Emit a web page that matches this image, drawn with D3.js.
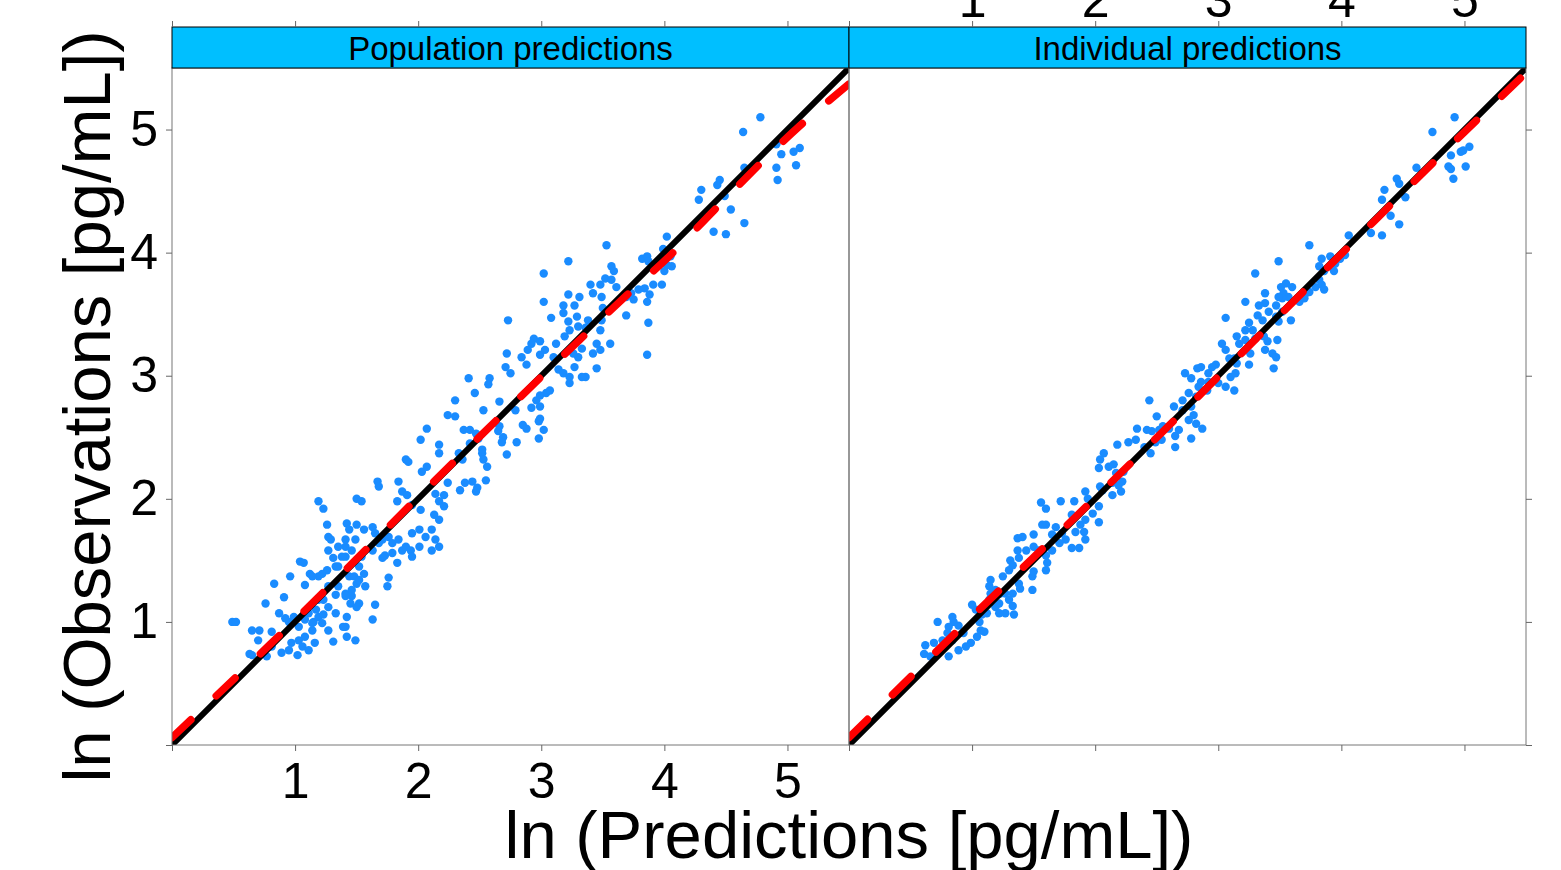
<!DOCTYPE html>
<html>
<head>
<meta charset="utf-8">
<script src="https://cdn.jsdelivr.net/npm/d3@7"></script>
<style>
  body { margin: 0; background: #fff; }
  text { font-family: "Liberation Sans", Arial, sans-serif; }
</style>
</head>
<body>
<div id="chart"></div>
<script>
// panel titles
var panelNames = ['Population predictions', 'Individual predictions'];
var tickValues = [0, 1, 2, 3, 4, 5];
var axisRange = [0, 5.5];

var popPoints = [
  [0.49,1.0],[0.52,1.0],[0.65,0.93],[0.71,0.93],[0.63,0.74],[0.65,0.73],[0.76,1.15],[0.81,0.92],[0.83,1.31],[0.91,1.2],
  [0.96,1.37],[1.04,1.49],[1.07,1.48],[0.87,1.07],[0.92,1.03],[0.95,1.0],[0.99,1.04],[1.03,0.96],[1.08,1.02],[1.11,1.07],
  [1.15,1.0],[1.19,1.04],[1.23,1.06],[1.14,0.93],[1.08,0.88],[1.03,0.85],[0.97,0.83],[1.06,0.80],[1.11,0.77],[1.16,0.83],
  [0.95,0.77],[0.89,0.75],[1.02,0.73],[0.81,0.80],[0.70,0.85],[0.77,0.72],[1.12,1.39],[1.19,1.37],[1.26,1.42],[1.33,1.45],
  [1.27,1.29],[1.35,1.29],[1.41,1.23],[1.46,1.21],[1.52,1.15],[1.46,1.26],[1.50,1.31],[1.56,1.39],[1.52,1.45],[1.54,1.53],
  [1.46,1.58],[1.41,1.61],[1.38,1.53],[1.35,1.45],[1.44,1.37],[1.49,1.67],[1.41,1.67],[1.44,1.75],[1.42,1.80],[1.50,1.79],
  [1.56,1.75],[1.63,1.77],[1.65,1.72],[1.68,1.64],[1.63,1.58],[1.71,1.67],[1.76,1.69],[1.79,1.64],[1.84,1.67],[1.87,1.58],
  [1.90,1.61],[1.95,1.72],[2.01,1.75],[2.06,1.69],[2.11,1.75],[2.14,1.67],[2.17,1.61],[2.11,1.58],[2.01,1.61],[1.94,1.58],
  [1.95,1.53],[1.83,1.48],[1.79,1.56],[1.73,1.54],[1.71,1.52],[1.76,1.36],[1.75,1.29],[1.65,1.14],[1.63,1.02],[1.49,0.85],
  [1.41,0.96],[1.42,1.04],[1.33,1.07],[1.27,1.12],[1.23,1.18],[1.19,1.18],[1.17,1.10],[1.22,0.99],[1.27,0.93],[1.31,0.84],
  [1.14,0.99],[1.19,1.98],[1.23,1.92],[1.50,2.00],[1.54,1.98],[1.26,1.79],[1.27,1.69],[1.29,1.67],[1.27,1.58],[1.67,2.14],
  [1.68,2.10],[1.84,2.14],[1.87,2.06],[1.91,2.03],[1.83,1.98],[1.95,1.95],[2.02,1.91],[1.90,2.32],[1.92,2.30],[2.02,2.48],
  [2.03,2.22],[2.07,2.26],[2.17,2.44],[2.17,2.37],[2.14,2.04],[2.21,2.03],[2.17,1.98],[2.21,1.94],[2.13,1.87],[2.17,1.83],
  [2.24,2.13],[2.33,2.37],[2.36,2.32],[2.34,2.07],[2.38,2.13],[2.44,2.14],[2.47,2.06],[2.48,2.09],[2.52,2.37],[2.53,2.32],
  [2.56,2.26],[2.55,2.15],[1.08,1.30],[1.14,1.37],[1.22,1.39],[1.31,1.52],[1.35,1.61],[1.41,1.53],[1.48,1.37],[1.52,1.34],
  [1.57,1.29],[1.33,1.22],[1.41,1.21],[1.45,1.15],[1.50,1.12],[1.39,0.96],[1.42,0.88],
  [4.02,4.13],[3.53,4.06],[3.22,3.93],[3.02,3.83],[3.57,3.89],[3.59,3.85],[3.82,3.95],[3.86,3.97],[3.87,3.93],[3.99,4.03],
  [4.05,3.97],[4.02,3.90],[4.06,3.89],[4.00,3.85],[3.40,3.74],[3.48,3.74],[3.52,3.79],[3.57,3.78],[3.61,3.72],[3.42,3.67],
  [3.49,3.64],[3.22,3.66],[3.31,3.64],[3.27,3.57],[3.18,3.57],[3.02,3.60],[3.73,3.67],[3.79,3.70],[3.84,3.71],[3.91,3.74],
  [3.98,3.74],[3.88,3.66],[3.86,3.60],[3.75,3.62],[3.69,3.64],[3.87,3.43],[3.86,3.17],[3.69,3.49],[3.50,3.55],[3.49,3.45],
  [3.48,3.37],[3.18,3.51],[3.22,3.44],[3.29,3.48],[3.30,3.40],[3.23,3.37],[3.19,3.32],[3.12,3.26],[3.08,3.47],[3.38,3.45],
  [3.36,3.39],[2.73,3.45],[2.94,3.30],[2.92,3.26],[2.99,3.28],[3.03,3.21],[2.99,3.17],[2.89,3.21],[2.84,3.15],[2.88,3.09],
  [2.72,3.18],[2.71,3.07],[2.75,3.02],[3.10,3.15],[3.14,3.05],[3.18,3.02],[3.23,2.99],[3.27,3.07],[3.30,3.15],[3.26,3.18],
  [3.33,3.22],[3.45,3.26],[3.48,3.21],[3.42,3.18],[3.56,3.26],[3.45,3.06],[3.36,2.99],[3.33,2.99],[3.23,2.94],[3.04,2.86],
  [3.07,2.88],[2.99,2.84],[2.96,2.80],[2.99,2.75],[2.92,2.74],[2.99,2.65],[2.98,2.63],[3.02,2.56],[2.98,2.49],[2.85,2.60],
  [2.88,2.57],[2.80,2.46],[2.66,2.79],[2.79,2.72],[2.53,2.72],[2.58,2.98],[2.57,2.93],[2.41,2.98],[2.46,2.86],[2.30,2.80],
  [2.24,2.68],[2.30,2.67],[2.07,2.57],[2.37,2.56],[2.42,2.56],[2.47,2.53],[2.49,2.49],[2.42,2.45],[2.52,2.40],[2.65,2.55],
  [2.69,2.50],[2.68,2.46],[2.72,2.36],[2.66,2.59],
  [4.78,5.10],[4.64,4.98],[4.91,4.88],[4.95,4.80],[5.05,4.82],[5.10,4.85],[5.07,4.71],[4.91,4.69],[4.92,4.59],[4.65,4.69],
  [4.30,4.51],[4.28,4.43],[4.43,4.55],[4.45,4.59],[4.49,4.46],[4.54,4.35],[4.65,4.24],[4.40,4.17],[4.50,4.15]
];

var indPoints = [
  [2.18,2.44],[2.07,2.37],[2.04,2.32],[2.11,2.26],[2.15,2.28],[2.03,2.25],[2.17,2.21],[2.23,2.22],[2.22,2.14],[2.19,2.11],
  [2.14,2.13],[2.21,2.06],[2.14,2.03],[2.04,2.10],[2.06,2.07],[1.92,2.06],[1.94,2.00],[1.83,1.98],[1.72,1.98],[1.56,1.97],
  [1.60,1.92],[2.03,1.94],[1.98,1.88],[2.03,1.81],[1.92,1.83],[1.88,1.79],[1.81,1.87],[1.84,1.73],[1.91,1.73],[1.92,1.67],
  [1.87,1.60],[1.81,1.60],[1.76,1.67],[1.73,1.72],[1.68,1.77],[1.60,1.79],[1.57,1.79],[1.65,1.71],[1.71,1.64],[1.65,1.58],
  [1.60,1.54],[1.54,1.58],[1.50,1.61],[1.44,1.58],[1.37,1.58],[1.38,1.52],[1.41,1.69],[1.37,1.68],[1.50,1.71],[1.31,1.50],
  [1.30,1.42],[1.33,1.46],[1.25,1.37],[1.15,1.34],[1.14,1.29],[1.19,1.26],[1.27,1.23],[1.33,1.23],[1.38,1.31],[1.39,1.27],
  [1.49,1.37],[1.50,1.41],[1.60,1.42],[1.61,1.48],[1.49,1.26],[1.30,1.18],[1.33,1.13],[1.27,1.07],[1.34,1.06],[1.22,1.15],
  [1.19,1.12],[1.14,1.18],[1.00,1.14],[1.03,1.10],[1.08,1.06],[1.12,1.07],[1.06,1.00],[1.07,0.93],[1.10,0.92],[1.04,0.88],
  [0.99,0.83],[0.95,0.80],[0.89,0.77],[0.93,0.91],[0.89,0.97],[0.85,1.00],[0.84,1.04],[0.81,0.96],[0.80,0.91],[0.84,0.85],
  [0.76,0.85],[0.72,1.00],[0.69,0.83],[0.62,0.81],[0.61,0.74],[0.66,0.72],[0.81,0.72],[1.22,1.07],[1.23,1.23],[1.15,1.23],
  [4.06,4.14],[3.74,4.06],[3.49,3.93],[3.30,3.83],[4.03,3.98],[3.99,3.95],[3.95,3.91],[3.91,3.97],[3.84,3.95],[3.82,3.89],
  [3.86,3.85],[3.94,3.85],[3.82,3.78],[3.79,3.72],[3.84,3.74],[3.86,3.70],[3.74,3.68],[3.71,3.67],[3.70,3.63],[3.66,3.60],
  [3.60,3.72],[3.55,3.75],[3.51,3.72],[3.53,3.67],[3.57,3.64],[3.52,3.63],[3.49,3.64],[3.47,3.57],[3.38,3.67],[3.38,3.59],
  [3.33,3.57],[3.32,3.49],[3.36,3.45],[3.22,3.60],[3.41,3.52],[3.52,3.52],[3.59,3.45],[3.49,3.44],[3.47,3.48],[3.06,3.47],
  [3.25,3.43],[3.28,3.37],[3.22,3.37],[3.15,3.32],[3.17,3.26],[3.22,3.29],[3.30,3.30],[3.37,3.32],[3.40,3.28],[3.38,3.21],
  [3.44,3.18],[3.47,3.15],[3.48,3.29],[3.26,3.18],[3.25,3.09],[3.45,3.06],[3.03,3.26],[3.06,3.21],[3.09,3.14],[3.13,3.14],
  [3.15,3.10],[3.10,2.99],[3.14,3.02],[3.13,2.88],[3.06,2.91],[3.00,2.94],[2.98,3.09],[2.95,3.07],[2.92,3.02],[2.86,3.07],
  [2.83,3.06],[2.73,3.02],[2.78,2.98],[2.86,2.95],[2.92,2.95],[2.91,2.88],[2.84,2.91],[2.82,2.83],[2.76,2.86],[2.71,2.80],
  [2.64,2.75],[2.71,2.72],[2.78,2.75],[2.80,2.68],[2.76,2.64],[2.82,2.61],[2.87,2.57],[2.78,2.49],[2.65,2.51],[2.68,2.56],
  [2.60,2.57],[2.55,2.59],[2.50,2.67],[2.52,2.56],[2.46,2.55],[2.42,2.56],[2.34,2.57],[2.33,2.48],[2.27,2.46],[2.40,2.42],
  [2.49,2.46],[2.54,2.48],[2.65,2.42],[2.45,2.37],[2.44,2.80],
  [4.92,5.10],[4.74,4.98],[5.04,4.86],[4.99,4.83],[4.97,4.82],[4.89,4.79],[4.87,4.70],[4.89,4.68],[5.01,4.70],[4.91,4.60],
  [4.61,4.69],[4.45,4.60],[4.47,4.56],[4.35,4.51],[4.33,4.43],[4.52,4.45],[4.40,4.30],[4.47,4.23],[4.33,4.14],[4.24,4.16]
];

// smooth (loess) line through each panel
var popSmoothX = [0, 0.8, 2.3, 3.3, 3.7, 4.05, 4.4, 5.1, 5.5];
var popSmoothY = [0.06, 0.82, 2.31, 3.28, 3.66, 3.98, 4.34, 5.03, 5.37];
var indSmoothX = [0, 0.7, 2.3, 3.95, 5.0, 5.5];
var indSmoothY = [0.06, 0.75, 2.3, 3.94, 4.98, 5.46];

var panels = [
  { name: panelNames[0], points: popPoints, sx: popSmoothX, sy: popSmoothY },
  { name: panelNames[1], points: indPoints, sx: indSmoothX, sy: indSmoothY }
];

var panelLeft = 172, panelTop = 68, size = 677, stripH = 41;

var svg = d3.select('#chart')
  .append('svg')
  .attr('width', 1561)
  .attr('height', 870);

var x = d3.scaleLinear().domain(axisRange).range([0, size]);
var y = d3.scaleLinear().domain(axisRange).range([size, 0]);

svg.append('clipPath').attr('id', 'clip')
  .append('rect').attr('width', size).attr('height', size);

var line = d3.line()
  .x(function(d) { return x(d[0]); })
  .y(function(d) { return y(d[1]); });
var smooth = d3.line()
  .x(function(d) { return x(d[0]); })
  .y(function(d) { return y(d[1]); })
  .curve(d3.curveMonotoneX);

var noLabel = function() { return ''; };
var withLabel = function(d) { return d === 0 ? '' : d; };

panels.forEach(function(p, i) {
  var g = svg.append('g')
    .attr('transform', 'translate(' + (panelLeft + i * size) + ',' + panelTop + ')');

  // points
  g.append('g').attr('clip-path', 'url(#clip)')
    .selectAll('circle')
    .data(p.points)
    .enter().append('circle')
    .attr('cx', function(d) { return x(d[0]); })
    .attr('cy', function(d) { return y(d[1]); })
    .attr('r', 4.2)
    .attr('fill', '#1a8cff');

  // line of identity
  g.append('path')
    .datum([[axisRange[0], axisRange[0]], [axisRange[1], axisRange[1]]])
    .attr('clip-path', 'url(#clip)')
    .attr('d', line)
    .attr('fill', 'none')
    .attr('stroke', '#000')
    .attr('stroke-width', 6);

  // smooth
  g.append('path')
    .datum(p.sx.map(function(v, k) { return [v, p.sy[k]]; }))
    .attr('clip-path', 'url(#clip)')
    .attr('d', smooth)
    .attr('fill', 'none')
    .attr('stroke', '#ff0000')
    .attr('stroke-width', 7.5)
    .attr('stroke-linecap', 'round')
    .attr('stroke-dasharray', '26,35');

  // panel frame
  g.append('rect')
    .attr('width', size).attr('height', size)
    .attr('fill', 'none').attr('stroke', '#777').attr('stroke-width', 1);

  // strip
  g.append('rect')
    .attr('y', -stripH).attr('width', size).attr('height', stripH)
    .attr('fill', '#00bfff').attr('stroke', '#000').attr('stroke-width', 1);
  g.append('text')
    .attr('x', size / 2).attr('y', -8)
    .attr('text-anchor', 'middle')
    .style('font-size', '33px')
    .text(p.name);

  // axes: labels alternate like lattice
  g.append('g').attr('class', 'axis')
    .attr('transform', 'translate(0,' + size + ')')
    .call(d3.axisBottom(x).tickValues(tickValues).tickSize(6).tickPadding(11)
      .tickFormat(i === 0 ? withLabel : noLabel));
  g.append('g').attr('class', 'axis')
    .attr('transform', 'translate(0,' + (-stripH) + ')')
    .call(d3.axisTop(x).tickValues(tickValues).tickSize(6).tickPadding(4)
      .tickFormat(i === 1 ? withLabel : noLabel));
  if (i === 0) {
    g.append('g').attr('class', 'axis')
      .call(d3.axisLeft(y).tickValues(tickValues).tickSize(6).tickPadding(8)
        .tickFormat(withLabel));
  } else {
    g.append('g').attr('class', 'axis')
      .attr('transform', 'translate(' + size + ',0)')
      .call(d3.axisRight(y).tickValues(tickValues).tickSize(6).tickFormat(noLabel));
  }
});

svg.selectAll('.axis .domain').remove();
svg.selectAll('.axis line').attr('stroke', '#666');
svg.selectAll('.axis text')
  .style('font-size', '50px')
  .style('font-family', '"Liberation Sans", Arial, sans-serif')
  .attr('fill', '#000');

// axis titles
svg.append('text')
  .attr('x', panelLeft + size).attr('y', 858)
  .attr('text-anchor', 'middle')
  .style('font-size', '67px')
  .text('ln (Predictions [pg/mL])');

svg.append('text')
  .attr('transform', 'translate(110,' + (panelTop + size / 2) + ') rotate(-90)')
  .attr('text-anchor', 'middle')
  .style('font-size', '67px')
  .text('ln (Observations [pg/mL])');
</script>
</body>
</html>
